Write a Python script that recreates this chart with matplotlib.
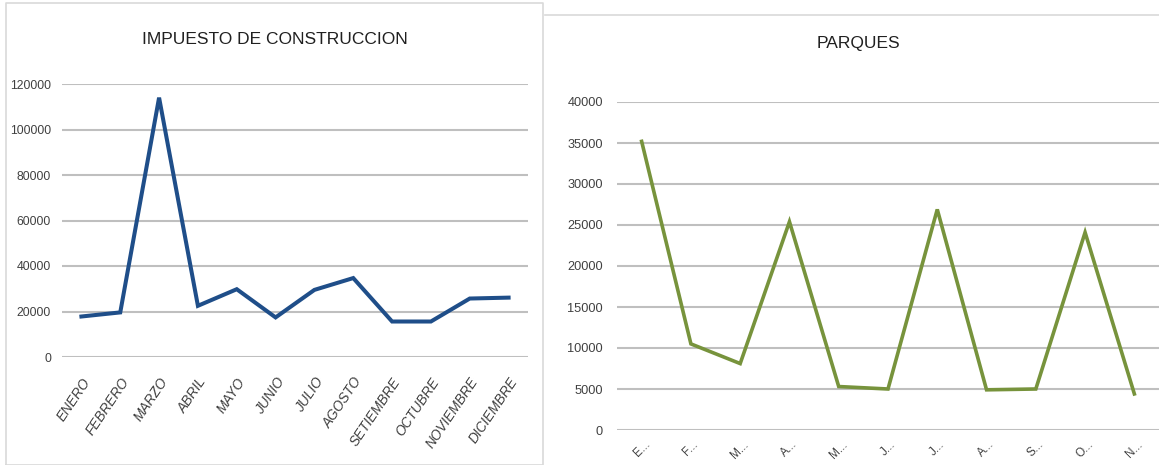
import matplotlib
matplotlib.use('Agg')
import matplotlib.pyplot as plt
from matplotlib.lines import Line2D

# data
meses = ['ENERO', 'FEBRERO', 'MARZO', 'ABRIL', 'MAYO', 'JUNIO', 'JULIO',
         'AGOSTO', 'SETIEMBRE', 'OCTUBRE', 'NOVIEMBRE', 'DICIEMBRE']
impuesto = [17800, 19600, 114000, 22500, 29800, 17400, 29500,
            34700, 15600, 15600, 25700, 26100]

parques_lbl = ['E...', 'F...', 'M...', 'A...', 'M...', 'J...', 'J...',
               'A...', 'S...', 'O...', 'N...']
parques = [35200, 10500, 8100, 25400, 5300, 5000, 26900,
           4900, 5000, 24100, 4400]

left_ticks = [0, 20000, 40000, 60000, 80000, 100000, 120000]
right_ticks = [0, 5000, 10000, 15000, 20000, 25000, 30000, 35000, 40000]

W, H = 1159, 465
fnt = ['Liberation Sans', 'DejaVu Sans']
plt.rcParams['font.family'] = fnt
grid_c = '#BFBFBF'
txt_c = '#404040'

fig = plt.figure(figsize=(W / 100, H / 100), dpi=100)

# panel frames
fig.add_artist(Line2D([6 / W, 543 / W, 543 / W, 6 / W, 6 / W],
                      [0, 0, 1 - 3 / H, 1 - 3 / H, 0],
                      color='#D9D9D9', lw=1.2, transform=fig.transFigure))
fig.add_artist(Line2D([545 / W, 1], [1 - 15 / H, 1 - 15 / H],
                      color='#D9D9D9', lw=1.2, transform=fig.transFigure))

# left chart
ax1 = fig.add_axes([62 / W, 1 - 357 / H, 466 / W, 273 / H])
x1 = range(len(meses))
ax1.plot(x1, impuesto, color='#1F4E89', lw=2.9, solid_joinstyle='miter')
ax1.set_xlim(-0.5, len(meses) - 0.5)
ax1.set_ylim(0, 120000)
ax1.set_yticks(left_ticks)
ax1.set_yticklabels([str(t) for t in left_ticks], fontsize=8.8, color=txt_c)
ax1.set_xticks(list(x1))
ax1.set_xticklabels(meses, rotation=56, ha='right', rotation_mode='anchor',
                    fontsize=9.8, style='italic', color=txt_c)
ax1.yaxis.grid(True, color=grid_c, lw=1.5)
ax1.set_axisbelow(True)
ax1.tick_params(length=0)
ax1.tick_params(axis='y', pad=8)
ax1.tick_params(axis='x', pad=13)
for s in ax1.spines.values():
    s.set_visible(False)
fig.text(275 / W, 1 - 40 / H, 'IMPUESTO DE CONSTRUCCION', ha='center',
         va='center', fontsize=12.5, color='#202020')

# right chart
ax2 = fig.add_axes([617 / W, 1 - 430 / H, 542 / W, 328 / H])
x2 = range(len(parques_lbl))
ax2.plot(x2, parques, color='#77933C', lw=2.6, solid_joinstyle='miter')
ax2.set_xlim(-0.5, len(parques_lbl) - 0.5)
ax2.set_ylim(0, 40000)
ax2.set_yticks(right_ticks)
ax2.set_yticklabels([str(t) for t in right_ticks], fontsize=9.2, color=txt_c)
ax2.set_xticks(list(x2))
ax2.set_xticklabels(parques_lbl, rotation=45, ha='center', va='top',
                    fontsize=8.5, color=txt_c)
ax2.yaxis.grid(True, color=grid_c, lw=1.5)
ax2.set_axisbelow(True)
ax2.tick_params(length=0)
ax2.tick_params(axis='y', pad=10)
ax2.tick_params(axis='x', pad=6)
for s in ax2.spines.values():
    s.set_visible(False)
fig.text(858 / W, 1 - 43 / H, 'PARQUES', ha='center', va='center',
         fontsize=12.5, color='#202020')

fig.savefig('out.png', dpi=100, facecolor='white')
